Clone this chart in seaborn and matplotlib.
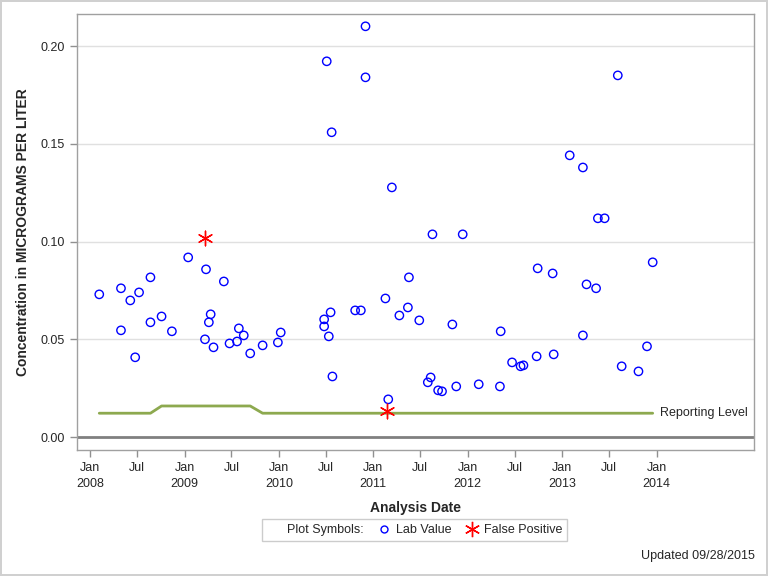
import pandas as pd
import matplotlib
matplotlib.use('Agg')
import matplotlib.pyplot as plt
import matplotlib.dates as mdates
from matplotlib.lines import Line2D
import seaborn as sns

# Lab values
lab_dates = ['2008-02-06', '2008-04-30', '2008-04-30', '2008-06-05', '2008-06-24', '2008-07-09',
             '2008-08-22', '2008-08-22', '2008-10-04', '2008-11-13', '2009-01-15', '2009-03-25',
             '2009-03-21', '2009-04-05', '2009-04-12', '2009-04-23', '2009-06-02', '2009-06-24',
             '2009-07-23', '2009-07-30', '2009-08-18', '2009-09-12', '2009-10-30', '2009-12-28',
             '2010-01-08', '2010-06-25', '2010-06-25', '2010-07-05', '2010-07-13', '2010-07-20',
             '2010-07-24', '2010-07-27', '2010-10-23', '2010-11-14', '2010-12-02', '2010-12-02',
             '2011-02-17', '2011-02-28', '2011-03-14', '2011-04-12', '2011-05-15', '2011-05-19',
             '2011-06-28', '2011-07-31', '2011-08-11', '2011-08-18', '2011-09-09', '2011-09-24',
             '2011-11-03', '2011-11-18', '2011-12-13', '2012-02-13', '2012-05-05', '2012-05-08',
             '2012-06-21', '2012-07-24', '2012-08-04', '2012-09-24', '2012-09-28', '2012-11-25',
             '2012-11-29', '2013-01-30', '2013-03-22', '2013-03-22', '2013-04-05', '2013-05-12',
             '2013-05-19', '2013-06-14', '2013-08-04', '2013-08-19', '2013-10-23', '2013-11-25',
             '2013-12-17']
lab_values = [0.0730, 0.0761, 0.0546, 0.0699, 0.0408, 0.0740,
              0.0817, 0.0587, 0.0617, 0.0541, 0.0919, 0.0858,
              0.0500, 0.0587, 0.0628, 0.0459, 0.0796, 0.0479,
              0.0489, 0.0556, 0.0520, 0.0428, 0.0469, 0.0484,
              0.0535, 0.0602, 0.0566, 0.1922, 0.0515, 0.0638,
              0.1559, 0.0310, 0.0648, 0.0648, 0.2101, 0.1840,
              0.0709, 0.0193, 0.1277, 0.0622, 0.0663, 0.0817,
              0.0597, 0.0280, 0.0305, 0.1037, 0.0239, 0.0234,
              0.0576, 0.0259, 0.1037, 0.0270, 0.0259, 0.0541,
              0.0382, 0.0362, 0.0367, 0.0413, 0.0863, 0.0837,
              0.0423, 0.1441, 0.1379, 0.0520, 0.0781, 0.0761,
              0.1119, 0.1119, 0.1850, 0.0362, 0.0336, 0.0464,
              0.0894]

# False positives
fp_dates = ['2009-03-21', '2011-02-24']
fp_values = [0.1020, 0.0131]

# Reporting level
rl_dates = ['2008-02-06', '2008-08-22', '2008-10-04', '2009-09-12', '2009-10-30', '2013-12-17']
rl_values = [0.0122, 0.0122, 0.0159, 0.0159, 0.0122, 0.0122]

tick_dates = pd.date_range('2008-01-01', '2014-01-01', freq='6MS')

lab = pd.DataFrame({'date': pd.to_datetime(lab_dates), 'value': lab_values})
fp = pd.DataFrame({'date': pd.to_datetime(fp_dates), 'value': fp_values})
rl = pd.DataFrame({'date': pd.to_datetime(rl_dates), 'value': rl_values})

sns.set_style('white')
plt.rcParams['font.family'] = ['Liberation Sans', 'DejaVu Sans']

fig = plt.figure(figsize=(7.68, 5.76), dpi=100)
fig.patch.set_edgecolor('#d0d0d0')
fig.patch.set_linewidth(1.5)
ax = fig.add_axes([0.1003, 0.2188, 0.8815, 0.7569])

star = (6, 2, 0)
line_col = '#8DA94F'

ax.grid(axis='y', color='#e0e0e0', linewidth=1)
ax.set_axisbelow(True)
ax.axhline(0, color='#808080', linewidth=2, zorder=1)

sns.lineplot(data=rl, x='date', y='value', color=line_col, linewidth=2, ax=ax, zorder=2)
sns.scatterplot(data=lab, x='date', y='value', marker='o', s=36, facecolor='none',
                edgecolor='blue', linewidth=1, ax=ax, zorder=3)
sns.scatterplot(data=fp, x='date', y='value', marker=star, s=110, color='red',
                linewidth=1, ax=ax, zorder=4)

ax.text(rl['date'].iloc[-1] + pd.Timedelta(days=30), rl['value'].iloc[-1], 'Reporting Level',
        va='center', ha='left', fontsize=9)

ax.set_xlim(pd.Timestamp('2007-11-12'), pd.Timestamp('2015-01-13'))
ax.set_ylim(-0.0066, 0.2164)
ax.set_yticks([0, 0.05, 0.10, 0.15, 0.20])
ax.yaxis.set_major_formatter(plt.FormatStrFormatter('%.2f'))
ax.set_xticks(tick_dates)
ax.set_xticklabels([d.strftime('%b') + ('\n' + d.strftime('%Y') if d.month == 1 else '')
                    for d in tick_dates], linespacing=1.5)
ax.tick_params(axis='both', labelsize=9, length=5, width=1, color='#909090', direction='out',
               bottom=True, left=True)
for sp in ax.spines.values():
    sp.set_color('#a0a0a0')
    sp.set_linewidth(1)

ax.set_xlabel('Analysis Date', fontsize=10, fontweight='bold', labelpad=8)
ax.set_ylabel('Concentration in MICROGRAMS PER LITER', fontsize=10, fontweight='bold', labelpad=8)

handles = [Line2D([], [], linestyle='none'),
           Line2D([], [], linestyle='none', marker='o', markersize=5, markerfacecolor='none',
                  markeredgecolor='blue', markeredgewidth=1),
           Line2D([], [], linestyle='none', marker=star, markersize=11, color='red',
                  markeredgewidth=1)]
labels = ['Plot Symbols:', 'Lab Value', 'False Positive']
leg = fig.legend(handles, labels, ncol=3, loc='center', bbox_to_anchor=(0.54, 0.0799),
                 fontsize=9, frameon=True, fancybox=False, handlelength=1.2,
                 handletextpad=0.4, columnspacing=1.0, borderpad=0.4)
leg.get_frame().set_edgecolor('#c0c0c0')
leg.get_frame().set_linewidth(1)

fig.text(0.983, 0.035, 'Updated 09/28/2015', ha='right', va='center', fontsize=9)

fig.savefig('out.png', dpi=100)
